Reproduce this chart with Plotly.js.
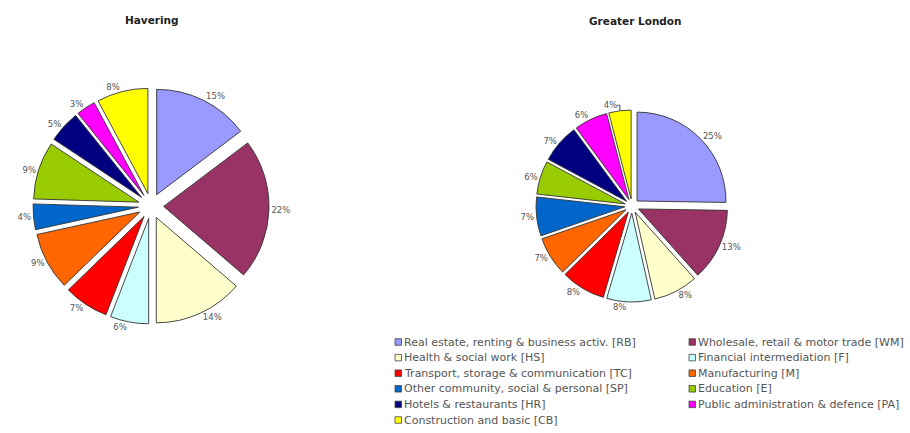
<!DOCTYPE html>
<html>
<head>
<meta charset="utf-8">
<script src="https://cdn.plot.ly/plotly-3.0.1.min.js"></script>
<style>html,body{margin:0;padding:0;background:#fff;}#chart{width:910px;height:433px;}</style>
</head>
<body>
<div id="chart"></div>
<script>
const codes = ["RB","WM","HS","F","TC","M","SP","E","HR","PA","CB"];
const labels = [
  "Real estate, renting & business activ. [RB]",
  "Wholesale, retail & motor trade [WM]",
  "Health & social work [HS]",
  "Financial intermediation [F]",
  "Transport, storage & communication [TC]",
  "Manufacturing [M]",
  "Other community, social & personal [SP]",
  "Education [E]",
  "Hotels & restaurants [HR]",
  "Public administration & defence [PA]",
  "Construction and basic [CB]"
];
const haveringValues = [15, 22, 14, 6, 7, 9, 4, 9, 5, 3, 8];
const londonValues = [25, 13, 8, 8, 8, 7, 7, 6, 7, 6, 4];
const colors = ["#9999FF","#993366","#FFFFCC","#CCFFFF","#FF0000","#FF6600","#0066CC","#99CC00","#000080","#FF00FF","#FFFF00"];
const titles = ["Havering", "Greater London"];

const W = 910, H = 433;
const px = x => x / W;
const py = y => 1 - y / H;
const labelFont = {family: "DejaVu Sans, Liberation Sans, Arial, sans-serif", size: 8.5, color: "#555"};

function pieTrace(values, name, cx, cy, half, pull) {
  return {
    type: "pie",
    name: name,
    labels: labels,
    values: values,
    sort: false,
    direction: "clockwise",
    rotation: 0,
    pull: values.map(() => pull),
    marker: {colors: colors, line: {color: "#333", width: 0.9}},
    textposition: "outside",
    texttemplate: "%{percent:.0%}",
    textfont: labelFont,
    outsidetextfont: labelFont,
    hoverinfo: "label+percent",
    domain: {x: [px(cx - half), px(cx + half)], y: [py(cy + half), py(cy - half)]},
    showlegend: false
  };
}

const data = [
  pieTrace(haveringValues, titles[0], 151, 206, 118, 0.12),
  pieTrace(londonValues, titles[1], 632, 206, 96, 0.08)
];

const titleFont = {family: "DejaVu Sans, Liberation Sans, Arial, sans-serif", size: 10.5, color: "#222"};
const annotations = [
  {text: "<b>" + titles[0] + "</b>", x: px(152), y: py(20), xref: "paper", yref: "paper", showarrow: false,
   xanchor: "center", yanchor: "middle", font: titleFont},
  {text: "<b>" + titles[1] + "</b>", x: px(635), y: py(21), xref: "paper", yref: "paper", showarrow: false,
   xanchor: "center", yanchor: "middle", font: titleFont}
];
const shapes = [];
const legCols = [395, 689];
const legRow0 = 342, legRowStep = 15.6, sw = 6.5;
labels.forEach((lab, i) => {
  const col = i % 2, row = Math.floor(i / 2);
  const sx = legCols[col], sy = legRow0 + row * legRowStep;
  shapes.push({type: "rect", xref: "paper", yref: "paper",
    x0: px(sx), x1: px(sx + sw), y0: py(sy + sw / 2), y1: py(sy - sw / 2),
    fillcolor: colors[i], line: {color: "#444", width: 0.8}});
  annotations.push({text: lab, x: px(sx + sw + 0.5), y: py(sy), xref: "paper", yref: "paper",
    xanchor: "left", yanchor: "middle", showarrow: false,
    font: {family: "DejaVu Sans, Liberation Sans, Arial, sans-serif", size: 11, color: "#555"}});
});

const layout = {
  width: W, height: H,
  margin: {l: 0, r: 0, t: 0, b: 0},
  paper_bgcolor: "#fff", plot_bgcolor: "#fff",
  showlegend: false,
  annotations: annotations,
  shapes: shapes
};
Plotly.newPlot("chart", data, layout, {displayModeBar: false, staticPlot: true});
</script>
</body>
</html>
